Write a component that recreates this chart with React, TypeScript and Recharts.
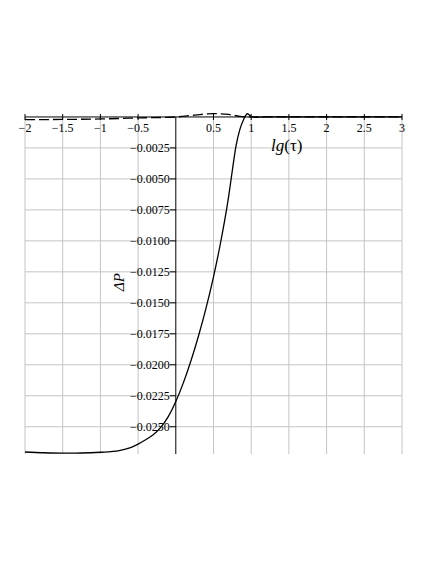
import React from "react";
import { ComposedChart, Line, XAxis, YAxis, ReferenceLine, ReferenceDot } from "recharts";

const xTicks = [-2, -1.5, -1, -0.5, 0.5, 1, 1.5, 2, 2.5, 3];
const xTickLabels = ["−2", "−1.5", "−1", "−0.5", "0.5", "1", "1.5", "2", "2.5", "3"];
const yTicks = [-0.0025, -0.005, -0.0075, -0.01, -0.0125, -0.015, -0.0175, -0.02, -0.0225, -0.025];
const yTickLabels = ["−0.0025", "−0.0050", "−0.0075", "−0.0100", "−0.0125", "−0.0150", "−0.0175", "−0.0200", "−0.0225", "−0.0250"];
const gridX = [-2, -1.5, -1, -0.5, 0.5, 1, 1.5, 2, 2.5, 3];

const solidX = [-2, -1.75, -1.5, -1.25, -1, -0.75, -0.6, -0.5, -0.4, -0.3, -0.2, -0.1, 0, 0.1, 0.2, 0.3, 0.4, 0.5, 0.6, 0.7, 0.75, 0.8, 0.85, 0.9, 0.95, 1.0, 1.05, 1.1, 1.2, 1.5, 2, 3];
const solidY = [-0.02704, -0.0271, -0.02713, -0.02712, -0.02706, -0.02692, -0.02668, -0.0264, -0.02605, -0.02565, -0.02505, -0.02418, -0.02296, -0.02146, -0.0197, -0.0177, -0.01545, -0.0129, -0.00995, -0.00645, -0.0043, -0.0023, -0.001, -0.0002, 0.00026, 0.00004, -0.00004, -0.00002, 0, 0, 0, 0];

const dashX = [-2, -1.5, -1, -0.5, 0, 0.25, 0.5, 0.7, 0.85, 1.0, 1.5, 2, 3];
const dashY = [-0.00022, -0.0002, -0.00016, -0.00008, 0.0, 0.00015, 0.00027, 0.0002, 0.00005, 0, 0, 0, 0];

const solidData = solidX.map((x, i) => ({ x, v: solidY[i] }));
const dashData = dashX.map((x, i) => ({ x, v: dashY[i] }));

const FONT = "Liberation Serif, Times New Roman, serif";

const XTickShape = (label: string) => (props: any) => {
  const { cx, cy } = props;
  return (
    <g>
      <line x1={cx} x2={cx} y1={cy - 3} y2={cy + 3} stroke="#000" strokeWidth={1} />
      <text x={cx} y={cy + 15} textAnchor="middle" style={{ fontFamily: FONT, fontSize: 12 }} fill="#000">{label}</text>
    </g>
  );
};

const YTickShape = (label: string) => (props: any) => {
  const { cx, cy } = props;
  return (
    <g>
      <line x1={cx - 6} x2={cx} y1={cy} y2={cy} stroke="#000" strokeWidth={1} />
      <text x={cx - 6} y={cy + 4} textAnchor="end" style={{ fontFamily: FONT, fontSize: 12 }} fill="#000">{label}</text>
    </g>
  );
};

export default function App() {
  return (
    <div style={{ position: "absolute", left: 0, top: 0, width: 436, height: 564, background: "#fff" }}>
      <ComposedChart width={436} height={564} margin={{ top: 112, right: 34, bottom: 110, left: 25 }}>
        <XAxis type="number" dataKey="x" domain={[-2, 3]} ticks={xTicks} allowDataOverflow tick={false} axisLine={false} tickLine={false} height={0} />
        <YAxis type="number" dataKey="v" domain={[-0.0272, 0.0004]} ticks={yTicks} allowDataOverflow tick={false} axisLine={false} tickLine={false} width={0} />
        {yTicks.map((t) => (
          <ReferenceLine key={"h" + t} y={t} stroke="#c4c4c4" strokeWidth={1} />
        ))}
        {gridX.map((t) => (
          <ReferenceLine key={"g" + t} segment={[{ x: t, y: 0 }, { x: t, y: -0.0272 }]} stroke="#c4c4c4" strokeWidth={1} />
        ))}
        <ReferenceLine y={0} stroke="#000" strokeWidth={1} />
        <ReferenceLine segment={[{ x: 0, y: 0 }, { x: 0, y: -0.0272 }]} stroke="#000" strokeWidth={1} />
        {xTicks.map((t, i) => (
          <ReferenceDot key={"xt" + t} x={t} y={0} r={0} shape={XTickShape(xTickLabels[i])} />
        ))}
        {yTicks.map((t, i) => (
          <ReferenceDot key={"yt" + t} x={0} y={t} r={0} shape={YTickShape(yTickLabels[i])} />
        ))}
        <Line data={dashData} dataKey="v" type="monotone" stroke="#000" strokeWidth={1.3} strokeDasharray="10 4" dot={false} isAnimationActive={false} />
        <Line data={solidData} dataKey="v" type="monotone" stroke="#000" strokeWidth={1.3} dot={false} isAnimationActive={false} />
      </ComposedChart>
      <div style={{ position: "absolute", left: 271, top: 137, fontFamily: FONT, fontSize: 17, lineHeight: "17px", color: "#000", whiteSpace: "nowrap" }}>
        <i>lg</i>(τ)
      </div>
      <div style={{ position: "absolute", left: 108, top: 272, width: 26, height: 20, fontFamily: FONT, fontSize: 15, fontStyle: "italic", transform: "rotate(-90deg)", transformOrigin: "center", textAlign: "center", whiteSpace: "nowrap" }}>
        ΔP
      </div>
    </div>
  );
}
